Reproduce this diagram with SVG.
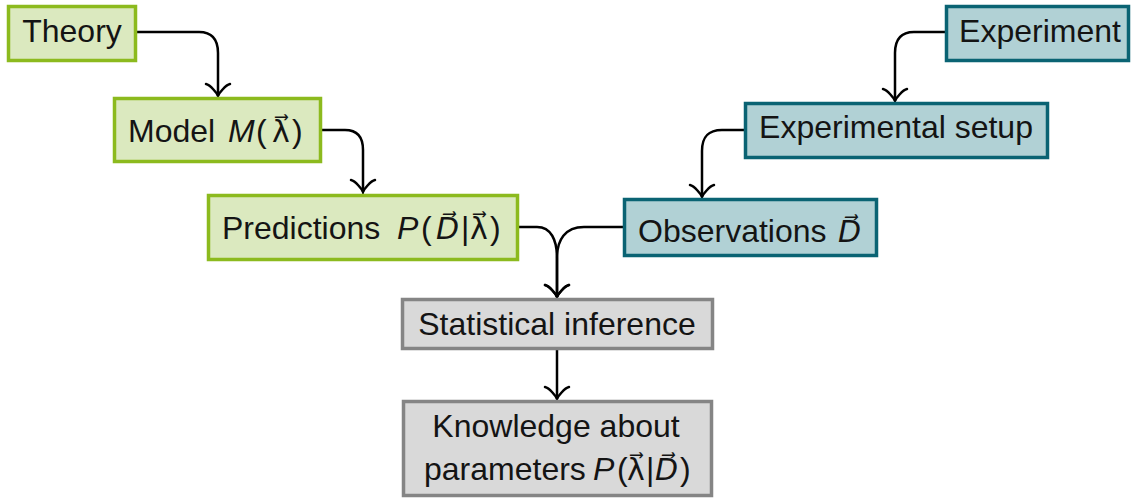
<svg xmlns="http://www.w3.org/2000/svg" width="1134" height="498" viewBox="0 0 1134 498">
<style>
  .green rect { fill: #dbe9bf; stroke: #8cba1e; stroke-width: 3.5; }
  .teal rect { fill: #b1d1d5; stroke: #0a6373; stroke-width: 3.5; }
  .gray rect { fill: #d9d9d9; stroke: #858585; stroke-width: 3.5; }
  text { font-family: "Liberation Sans", Arial, sans-serif; font-size: 32px; fill: #141414; }
  .it { font-style: italic; }
  .v { font-family: "DejaVu Sans", sans-serif; font-size: 30px; }
  .mid { text-anchor: middle; }
  .conn path { fill: none; stroke: #000; stroke-width: 2.5; }
</style>
<defs>
  <marker id="to" markerUnits="userSpaceOnUse" markerWidth="30" markerHeight="30" viewBox="-15 -15 30 30" refX="0" refY="0" orient="auto" overflow="visible">
    <path d="M-12,-12 C-11,-7.5 -2.3,-0.7 0,0 C-2.3,0.7 -11,7.5 -12,12" fill="none" stroke="#000" stroke-width="2.5" stroke-linecap="round"/>
  </marker>
</defs>
<rect width="1134" height="498" fill="#fff"/>

<g id="connectors" class="conn">
  <path d="M137,32 H199 C212,32 218,39 218,53 V96" marker-end="url(#to)"/>
  <path d="M321,130 H345 C357,130 363,137 363,150 V192" marker-end="url(#to)"/>
  <path d="M518,227 H537 C551,227 557,240 557,258 V297" marker-end="url(#to)"/>
  <path d="M623,227 H584 C565,227 557,240 557,258 V297" marker-end="url(#to)"/>
  <path d="M945,32 H914 C901,32 895,39 895,53 V101" marker-end="url(#to)"/>
  <path d="M744,130 H722 C708,130 702,137 702,151 V197" marker-end="url(#to)"/>
  <path d="M557,349 V399" marker-end="url(#to)"/>
</g>

<g id="theory" class="green">
  <rect x="8.5" y="6.5" width="127" height="54"/>
  <text x="72" y="42" class="mid">Theory</text>
</g>

<g id="model" class="green">
  <rect x="114.5" y="98.5" width="206" height="63"/>
  <text y="142"><tspan x="128">Model</tspan><tspan x="228" class="it">M</tspan><tspan x="256">(</tspan><tspan x="272" class="v">λ⃗</tspan><tspan x="292">)</tspan></text>
</g>

<g id="predictions" class="green">
  <rect x="208.5" y="195.5" width="309" height="64"/>
  <text y="239"><tspan x="222">Predictions</tspan><tspan x="397" class="it">P</tspan><tspan x="421">(</tspan><tspan x="436" class="v it">D⃗</tspan><tspan x="461">|</tspan><tspan x="470" class="v">λ⃗</tspan><tspan x="490">)</tspan></text>
</g>

<g id="observations" class="teal">
  <rect x="624.5" y="199.5" width="252" height="56"/>
  <text y="242"><tspan x="638">Observations</tspan><tspan x="838" class="v it">D⃗</tspan></text>
</g>

<g id="experimental-setup" class="teal">
  <rect x="745.5" y="103.5" width="302" height="54"/>
  <text x="896" y="138" class="mid">Experimental setup</text>
</g>

<g id="experiment" class="teal">
  <rect x="946.5" y="6.5" width="182" height="54"/>
  <text x="1040" y="42" class="mid">Experiment</text>
</g>

<g id="statistical-inference" class="gray">
  <rect x="402.5" y="299.5" width="310" height="49"/>
  <text x="557" y="335" class="mid">Statistical inference</text>
</g>

<g id="knowledge" class="gray">
  <rect x="403.5" y="401.5" width="308" height="94"/>
  <text x="556" y="437" class="mid">Knowledge about</text>
  <text y="480"><tspan x="424">parameters</tspan><tspan x="593" class="it">P</tspan><tspan x="617">(</tspan><tspan x="627" class="v">λ⃗</tspan><tspan x="646">|</tspan><tspan x="655" class="v it">D⃗</tspan><tspan x="680">)</tspan></text>
</g>
</svg>
